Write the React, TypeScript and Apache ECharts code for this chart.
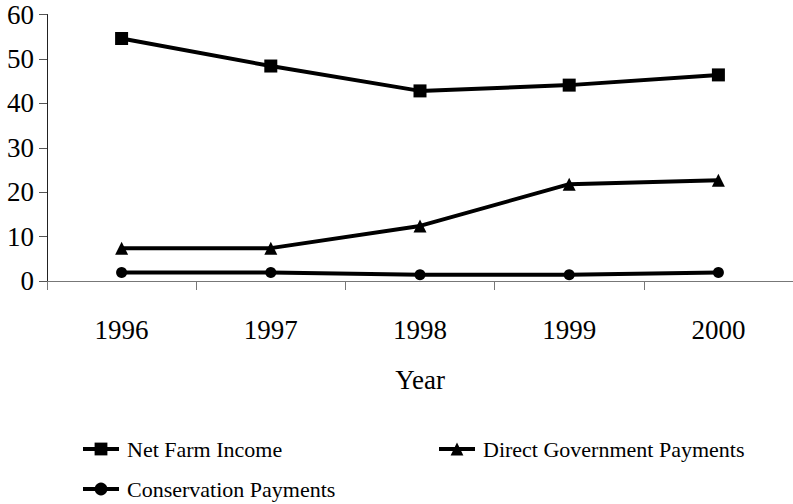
import React, { useEffect, useRef } from "react";
import * as echarts from "echarts";

const years = ["1996", "1997", "1998", "1999", "2000"];
const netFarmIncome = [54.6, 48.4, 42.8, 44.1, 46.4];
const directGovPayments = [7.4, 7.4, 12.4, 21.8, 22.7];
const conservationPayments = [1.9, 1.9, 1.4, 1.4, 1.9];
const yTicks = [0, 10, 20, 30, 40, 50, 60];

const FONT = "'Liberation Serif', 'Times New Roman', serif";

export default function App() {
  const ref = useRef<HTMLDivElement>(null);
  useEffect(() => {
    if (!ref.current) return;
    const chart = echarts.init(ref.current, undefined, { renderer: "svg" });
    const legendText = {
      fontFamily: FONT,
      fontSize: 22,
      lineHeight: 24,
      color: "#000",
      padding: [0, 0, 0, 3],
    };
    const legendBase = {
      itemWidth: 36,
      itemHeight: 16,
      textStyle: legendText,
      selectedMode: false,
      lineStyle: { width: 4, color: "#000" },
    };
    const lineSeries = (name: string, data: number[], symbol: string, size: number) => ({
      name,
      type: "line",
      data,
      symbol,
      symbolSize: size,
      showAllSymbol: true,
      lineStyle: { color: "#000", width: 4 },
      itemStyle: { color: "#000" },
      emphasis: { disabled: true },
    });
    chart.setOption({
      animation: false,
      backgroundColor: "#fff",
      grid: { left: 47, top: 14.5, width: 752, bottom: 223 },
      xAxis: {
        type: "category",
        data: years,
        boundaryGap: true,
        name: "Year",
        nameLocation: "middle",
        nameGap: 85,
        nameTextStyle: { fontFamily: FONT, fontSize: 27, color: "#000" },
        axisLine: { lineStyle: { color: "#777", width: 1 } },
        axisTick: { show: true, length: 9, lineStyle: { color: "#777" } },
        axisLabel: { fontFamily: FONT, fontSize: 27, color: "#000", margin: 35 },
      },
      yAxis: {
        type: "value",
        min: yTicks[0],
        max: yTicks[yTicks.length - 1],
        interval: 10,
        splitLine: { show: false },
        axisLine: { show: true, lineStyle: { color: "#222", width: 1 } },
        axisTick: { show: true, length: 8, lineStyle: { color: "#555" } },
        axisLabel: {
          fontFamily: FONT,
          fontSize: 27,
          color: "#000",
          margin: 13,
          padding: [8, 0, 0, 0],
        },
      },
      legend: [
        { ...legendBase, data: ["Net Farm Income"], left: 76, top: 432 },
        { ...legendBase, data: ["Direct Government Payments"], left: 432, top: 432 },
        { ...legendBase, data: ["Conservation Payments"], left: 76, top: 472 },
      ],
      series: [
        lineSeries("Net Farm Income", netFarmIncome, "rect", 13),
        lineSeries("Direct Government Payments", directGovPayments, "triangle", 13),
        lineSeries("Conservation Payments", conservationPayments, "circle", 11),
      ],
    });
    return () => chart.dispose();
  }, []);
  return (
    <div
      ref={ref}
      style={{ position: "fixed", left: 0, top: 0, width: 793, height: 504, overflow: "hidden" }}
    />
  );
}
